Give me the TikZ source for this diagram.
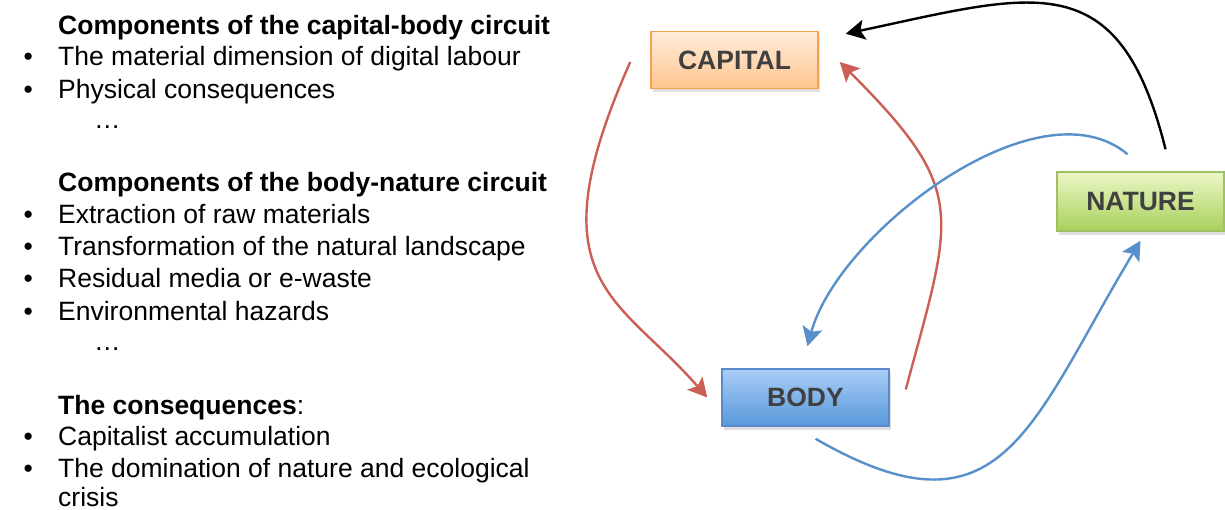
\documentclass[tikz,border=0pt]{standalone}
\usepackage{fontspec}
\setmainfont{Liberation Sans}
\usetikzlibrary{arrows.meta,shadows}

\definecolor{capTop}{HTML}{FFEBDA}
\definecolor{capBot}{HTML}{FFC690}
\definecolor{capLine}{HTML}{F6A04D}
\definecolor{bodTop}{HTML}{AACDF6}
\definecolor{bodBot}{HTML}{5799DA}
\definecolor{bodLine}{HTML}{5A8ACB}
\definecolor{natTop}{HTML}{ECF7C6}
\definecolor{natBot}{HTML}{A9D05C}
\definecolor{natLine}{HTML}{A0C063}
\definecolor{redArrow}{HTML}{CB5F56}
\definecolor{blueArrow}{HTML}{5890CB}
\definecolor{boxText}{HTML}{404040}

\begin{document}
\begin{tikzpicture}
		[x=1pt, y=1pt, font=\fontsize{26.5}{32}\selectfont,
		 box/.style ={rectangle, line width=1.5pt, minimum width=167pt, minimum height=57pt, text=boxText,
		 	font=\fontsize{26.5}{32}\selectfont\bfseries,
		 	drop shadow={shadow xshift=2pt, shadow yshift=-4pt, opacity=0.25}},
		 itm/.style ={anchor=base west, inner sep=0pt},
		 head/.style ={itm, font=\fontsize{26.5}{32}\selectfont\bfseries},
		 link/.style ={line width=2.4pt, -{Stealth[length=19pt, width=20pt, inset=4pt]}}]
		\useasboundingbox (0,0) rectangle (1225,510);
		\begin{scope}
			\node[head] (h1) at (58,475.5) {Components of the capital-body circuit};
			\node[itm] (b1) at (23.5,444.5) {•};
			\node[itm] (t1) at (58,444.5) {The material dimension of digital labour};
			\node[itm] (b2) at (23.5,411.5) {•};
			\node[itm] (t2) at (58,411.5) {Physical consequences};
			\node[itm] (d1) at (94,381) {…};
		\end{scope}
		\begin{scope}
			\node[head] (h2) at (58,318.5) {Components of the body-nature circuit};
			\node[itm] (b3) at (23.5,286.5) {•};
			\node[itm] (t3) at (58,286.5) {Extraction of raw materials};
			\node[itm] (b4) at (23.5,254.5) {•};
			\node[itm] (t4) at (58,254.5) {Transformation of the natural landscape};
			\node[itm] (b5) at (23.5,222.5) {•};
			\node[itm] (t5) at (58,222.5) {Residual media or e-waste};
			\node[itm] (b6) at (23.5,189.5) {•};
			\node[itm] (t6) at (58,189.5) {Environmental hazards};
			\node[itm] (d2) at (94,159) {…};
		\end{scope}
		\begin{scope}
			\node[itm] (h3) at (58,95.5) {\textbf{The consequences}:};
			\node[itm] (b7) at (23.5,64.5) {•};
			\node[itm] (t7) at (58,64.5) {Capitalist accumulation};
			\node[itm] (b8) at (23.5,32.5) {•};
			\node[itm] (t8) at (58,32.5) {The domination of nature and ecological};
			\node[itm] (t9) at (58,3.5) {crisis};
		\end{scope}
		% the three boxes
		\node[box, draw=capLine, top color=capTop, bottom color=capBot] (cap) at (734.5,450) {CAPITAL};
		\node[box, draw=bodLine, top color=bodTop, bottom color=bodBot] (bod) at (805.5,112.5) {BODY};
		\node[box, draw=natLine, top color=natTop, bottom color=natBot, minimum height=59pt] (nat) at (1140.5,308.5) {NATURE};
		% circuits
		\draw[link, redArrow] ([xshift=-20pt,yshift=-2pt]cap.west) to [out=246,in=131,out looseness=1.8,in looseness=1] ([xshift=-14pt]bod.west);
		\draw[link, redArrow] ([xshift=16pt,yshift=8pt]bod.east) to [out=75,in=315,looseness=1.4] ([xshift=21pt,yshift=-2pt]cap.east);
		\draw[link, blueArrow] ([xshift=-13pt,yshift=17pt]nat.north) to [out=140,in=75,looseness=0.8] ([xshift=2pt,yshift=22pt]bod.north);
		\draw[link, blueArrow] ([xshift=10pt,yshift=-12pt]bod.south) to [out=-30,in=239,looseness=1.45] ([yshift=-9pt]nat.south);
		\draw[link, black] ([xshift=25pt,yshift=22pt]nat.north) to [out=104,in=12,looseness=1.45] ([xshift=27pt,yshift=-3pt]cap.north east);
\end{tikzpicture}
\end{document}
